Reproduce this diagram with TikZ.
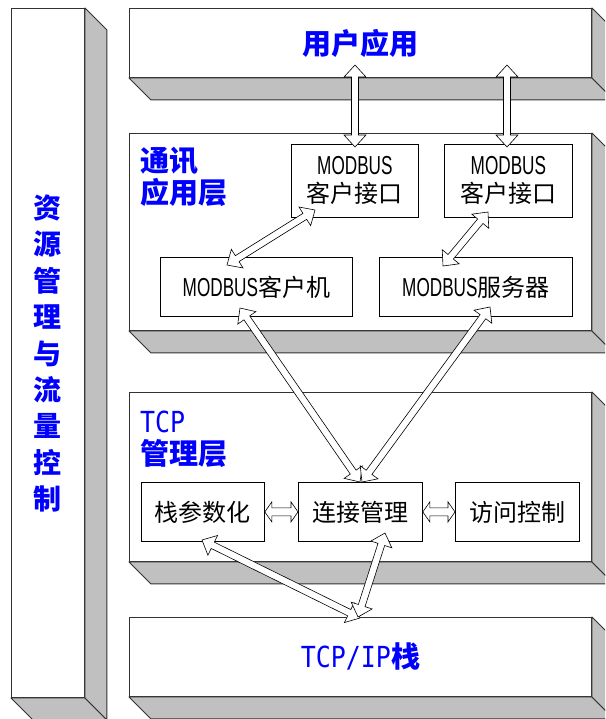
\documentclass[tikz,border=0pt]{standalone}
\usepackage{fontspec}
\setmainfont{Noto Sans CJK SC}
\newfontfamily\lat[FakeStretch=0.86]{DejaVu Sans Mono}
\newfontfamily\narrow[FakeStretch=0.66]{Liberation Sans}
\usetikzlibrary{calc}
\definecolor{sidegray}{RGB}{192,192,192}
\definecolor{edgecol}{RGB}{50,50,50}
\tikzset{
  front/.style={draw=edgecol, fill=white, line width=0.9pt, inner sep=0pt, anchor=north west},
  side/.style={draw=edgecol, fill=sidegray, line width=0.9pt, line join=round},
  inbox/.style={draw=black, fill=white, line width=0.8pt, inner sep=0pt, anchor=north west,
    font=\fontsize{24}{28}\selectfont, align=center},
  titletext/.style={text=blue, font=\fontsize{29}{32}\selectfont\bfseries, inner sep=0pt},
  harrow/.style={draw=black, fill=white, line width=0.6pt, line join=miter},
}
\newcommand\mb{{\narrow\fontsize{26}{28}\selectfont MODBUS}}
\newcommand\slab[5]{% name, x1, y1, width, height
  \node[front, minimum width=#4pt, minimum height=#5pt] (#1) at (#2,#3) {};
  \draw[side] (#1.south west) -- ++(22pt,-22pt) -- ($(#1.south east)+(22pt,-22pt)$) -- (#1.south east) -- cycle;
  \draw[side] (#1.north east) -- ++(22pt,-22pt) -- ($(#1.south east)+(22pt,-22pt)$) -- (#1.south east) -- cycle;
}
% \hollowarrow[head length][head half width][shaft half width]{from}{to}
\newcommand\hollowarrowgen[5]{%
  \draw[harrow] (#4)
    -- ($(#4)!#1pt!(#5)!#2pt!90:(#5)$)
    -- ($(#4)!#1pt!(#5)!#3pt!90:(#5)$)
    -- ($(#5)!#1pt!(#4)!#3pt!-90:(#4)$)
    -- ($(#5)!#1pt!(#4)!#2pt!-90:(#4)$)
    -- (#5)
    -- ($(#5)!#1pt!(#4)!#2pt!90:(#4)$)
    -- ($(#5)!#1pt!(#4)!#3pt!90:(#4)$)
    -- ($(#4)!#1pt!(#5)!#3pt!-90:(#5)$)
    -- ($(#4)!#1pt!(#5)!#2pt!-90:(#5)$)
    -- cycle;}
\newcommand\hollowarrow[2]{\hollowarrowgen{12}{11}{3.5}{#1}{#2}}
\newcommand\shortarrow[2]{\hollowarrowgen{7}{10}{4}{#1}{#2}}
\begin{document}
\begin{tikzpicture}[x=1pt, y=-1pt]
\useasboundingbox (0,0) rectangle (605,719);
\clip (0,0) rectangle (605,719);
\fill[white] (0,0) rectangle (605,719);

% 3D slabs
\slab{res}{11}{8}{73}{689}
\slab{ua}{129}{8}{462}{69}
\slab{comm}{129}{133}{462}{197}
\slab{tcpm}{129}{392}{462}{169}
\slab{tcpip}{129}{617}{462}{79}

% slab titles
\node[titletext] (tua) at (ua) {用户应用};
\node[titletext, anchor=west, align=left] (tcomm) at (140,177) {通讯\\应用层};
\node[titletext, anchor=west, align=left] (ttcpm) at (140,439) {{\lat\mdseries TCP}\\管理层};
\node[titletext] (ttcpip) at (tcpip) {{\lat\mdseries TCP/IP}栈};
\node[titletext, align=center, font=\fontsize{28}{36.4}\selectfont\bfseries] (tres) at (47.5,353.5)
  {资\\源\\管\\理\\与\\流\\量\\控\\制};

% inner boxes
\node[inbox, minimum width=127pt, minimum height=73pt] (if1) at (291,144) {\mb\\客户接口};
\node[inbox, minimum width=128pt, minimum height=73pt] (if2) at (444,144) {\mb\\客户接口};
\node[inbox, minimum width=192pt, minimum height=59pt] (cli) at (160,257) {\mb 客户机};
\node[inbox, minimum width=193pt, minimum height=59pt] (srv) at (379,257) {\mb 服务器};
\node[inbox, minimum width=123pt, minimum height=59pt] (stk) at (141,482) {栈参数化};
\node[inbox, minimum width=124pt, minimum height=59pt] (con) at (298,482) {连接管理};
\node[inbox, minimum width=124pt, minimum height=59pt] (acc) at (455,482) {访问控制};

% arrow end points
\coordinate (u1) at (355,65);
\coordinate (i1) at (355,147);
\coordinate (u2) at (507,65);
\coordinate (i2) at (507,147);
\coordinate (i1b) at (315,210);
\coordinate (clt) at (227,265);
\coordinate (i2b) at (488,212);
\coordinate (srt) at (443,266);
\coordinate (clb) at (240,308);
\coordinate (cot1) at (360,482);
\coordinate (srb) at (490,307);
\coordinate (cot2) at (362,482);
\coordinate (stb) at (202,540);
\coordinate (ipt1) at (360,618);
\coordinate (cob) at (385,533);
\coordinate (ipt2) at (358,617);

% arrows
\hollowarrow{u1}{i1}
\hollowarrow{u2}{i2}
\hollowarrow{i1b}{clt}
\hollowarrow{i2b}{srt}
\hollowarrow{clb}{cot1}
\hollowarrow{srb}{cot2}
\shortarrow{stk.east}{con.west}
\shortarrow{con.east}{acc.west}
\hollowarrow{stb}{ipt1}
\hollowarrow{cob}{ipt2}
\end{tikzpicture}
\end{document}
